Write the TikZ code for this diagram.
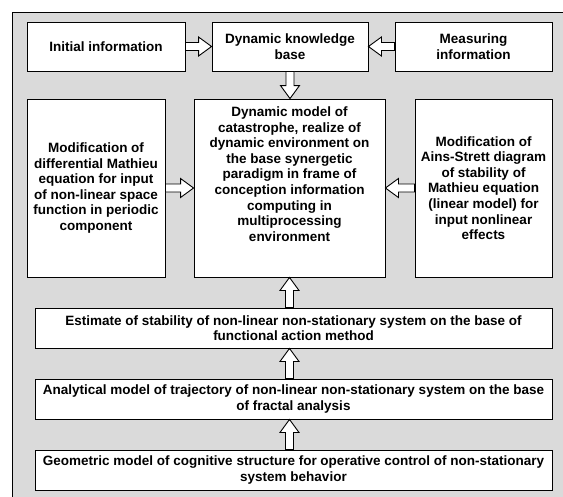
\documentclass[tikz,border=0pt]{standalone}
\usepackage{fontspec}
\setmainfont{Liberation Sans}
\usetikzlibrary{calc}

\definecolor{panelgray}{RGB}{218,218,218}
\newcommand{\blockfont}{\bfseries\fontsize{13.5}{15.6}\selectfont}

\tikzset{
  block/.style={draw, line width=0.9pt, fill=white, inner sep=2pt,
    align=center, font=\blockfont},
  wide/.style={block, minimum width=517pt, minimum height=40pt},
  arrowbody/.style={draw, line width=0.9pt, fill=white, line join=miter},
}

% hollow block arrow from #1 to #2
\newcommand{\hollowarrow}[2]{%
  \draw[arrowbody] let \p1=(#1), \p2=(#2),
    \n1={atan2(\y2-\y1,\x2-\x1)}, \n2={veclen(\x2-\x1,\y2-\y1)} in
    {[shift={(\p1)}, rotate=\n1]
    (0,-4) -- (\n2-13,-4) -- (\n2-13,-9.5) -- (\n2,0)
    -- (\n2-13,9.5) -- (\n2-13,4) -- (0,4) -- cycle};}

\begin{document}
\begin{tikzpicture}[x=1pt,y=-1pt]
  \useasboundingbox (0,0) rectangle (563,496);
  \clip (0,0) rectangle (563,496);
  \draw[line width=0.9pt, fill=panelgray] (12.5,12) rectangle (575,510);

  % top row
  \node[block, minimum width=158pt, minimum height=49pt] (init) at (106,46.5)
    {Initial information};
  \node[block, minimum width=156pt, minimum height=49pt] (kbase) at (290,46.5)
    {Dynamic knowledge\\base};
  \node[block, minimum width=157pt, minimum height=49pt] (meas) at (473.5,46.5)
    {Measuring\\information};

  % middle row
  \node[block, minimum width=138pt, minimum height=178pt] (mathieu) at (96,188)
    {Modification of\\differential Mathieu\\equation for input\\of non-linear space\\function in periodic\\component};
  \node[block, minimum width=191pt, minimum height=178pt] (model) at (289.5,188) {};
  \node[anchor=north, yshift=-6pt, align=center, font=\blockfont, inner sep=2pt]
    (modeltext) at (model.north)
    {Dynamic model of\\catastrophe, realize of\\dynamic environment on\\the base synergetic\\paradigm in frame of\\conception information\\computing in\\multiprocessing\\environment};
  \node[block, minimum width=137pt, minimum height=178pt] (ains) at (483.5,188)
    {Modification of\\Ains-Strett diagram\\of stability of\\Mathieu equation\\(linear model) for\\input nonlinear\\effects};

  % bottom stack
  \node[wide] (estim) at (293.5,328)
    {Estimate of stability of non-linear non-stationary system on the base of\\functional action method};
  \node[wide] (analyt) at (293.5,399)
    {Analytical model of trajectory of non-linear non-stationary system on the base\\of fractal analysis};
  \node[wide] (geom) at (293.5,470)
    {Geometric model of cognitive structure for operative control of non-stationary\\system behavior};

  % block arrows
  \hollowarrow{init.east}{kbase.west}
  \hollowarrow{meas.west}{kbase.east}
  \hollowarrow{kbase.south}{kbase.south |- model.north}
  \hollowarrow{mathieu.east}{mathieu.east -| model.west}
  \hollowarrow{ains.west}{ains.west -| model.east}
  \hollowarrow{model.south |- estim.north}{model.south}
  \hollowarrow{model.south |- analyt.north}{model.south |- estim.south}
  \hollowarrow{model.south |- geom.north}{model.south |- analyt.south}
\end{tikzpicture}
\end{document}
